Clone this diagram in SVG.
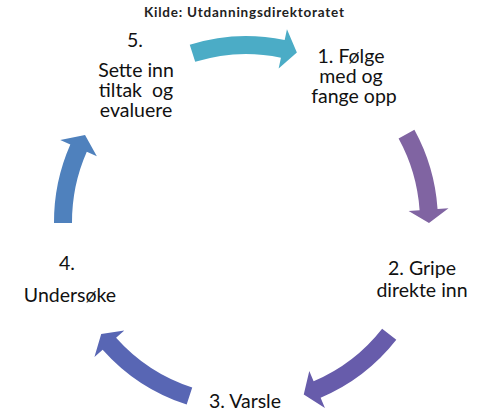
<svg xmlns="http://www.w3.org/2000/svg" width="480" height="413" viewBox="0 0 480 413">
<style>
.lbl{font-family:Lato,"Open Sans","Liberation Sans",sans-serif;font-size:19.5px;fill:#111;text-anchor:middle}
.title{font-family:Lato,"Open Sans","Liberation Sans",sans-serif;font-size:13.5px;font-weight:bold;fill:#222;text-anchor:middle}
</style>
<rect width="480" height="413" fill="#fff"/>
<text class="title" x="244" y="17" textLength="200">Kilde: Utdanningsdirektoratet</text>
<g id="connectors">
<path id="a1" fill="#4BACC6" d="M189.75,44.7 A186,186 0 0 1 284.67,40.07 L286.96,29.31 L296.87,52.47 L278.64,68.44 L280.93,57.68 A168,168 0 0 0 195.2,61.86 Z"/>
<path id="a2" fill="#8064A2" d="M414.4,129.8 A192,192 0 0 1 437.55,208.94 L448.53,208.19 L429.0,222.96 L408.62,210.91 L419.6,210.16 A174,174 0 0 0 398.6,138.45 Z"/>
<path id="a3" fill="#675CAB" d="M396.3,339.85 A191,191 0 0 1 320.62,397.82 L324.92,407.94 L303.75,394.59 L309.29,371.12 L313.59,381.25 A173,173 0 0 0 382.13,328.74 Z"/>
<path id="a4" fill="#5866B4" d="M186.67,404.61 A192,192 0 0 1 102.65,349.72 L94.44,357.04 L101.21,333.9 L124.3,330.43 L116.09,337.74 A174,174 0 0 0 192.23,387.49 Z"/>
<path id="a5" fill="#4F81BD" d="M54,223 A192,192 0 0 1 70.32,144.53 L60.25,140.09 L85.03,134.97 L96.85,156.23 L86.79,151.79 A174,174 0 0 0 72,222.91 Z"/>
</g>
<g id="node1"><text class="lbl" x="351" y="63">1. Følge</text><text class="lbl" x="351" y="83">med og</text><text class="lbl" x="354" y="103">fange opp</text></g>
<g id="node2"><text class="lbl" x="422" y="275">2. Gripe</text><text class="lbl" x="422" y="297">direkte inn</text></g>
<g id="node3"><text class="lbl" x="245" y="408">3. Varsle</text></g>
<g id="node4"><text class="lbl" x="67" y="270">4.</text><text class="lbl" x="70" y="302">Undersøke</text></g>
<g id="node5"><text class="lbl" x="135" y="47">5.</text><text class="lbl" x="136" y="77">Sette inn</text><text class="lbl" x="136" y="97" xml:space="preserve">tiltak  og</text><text class="lbl" x="136" y="117">evaluere</text></g>
</svg>
